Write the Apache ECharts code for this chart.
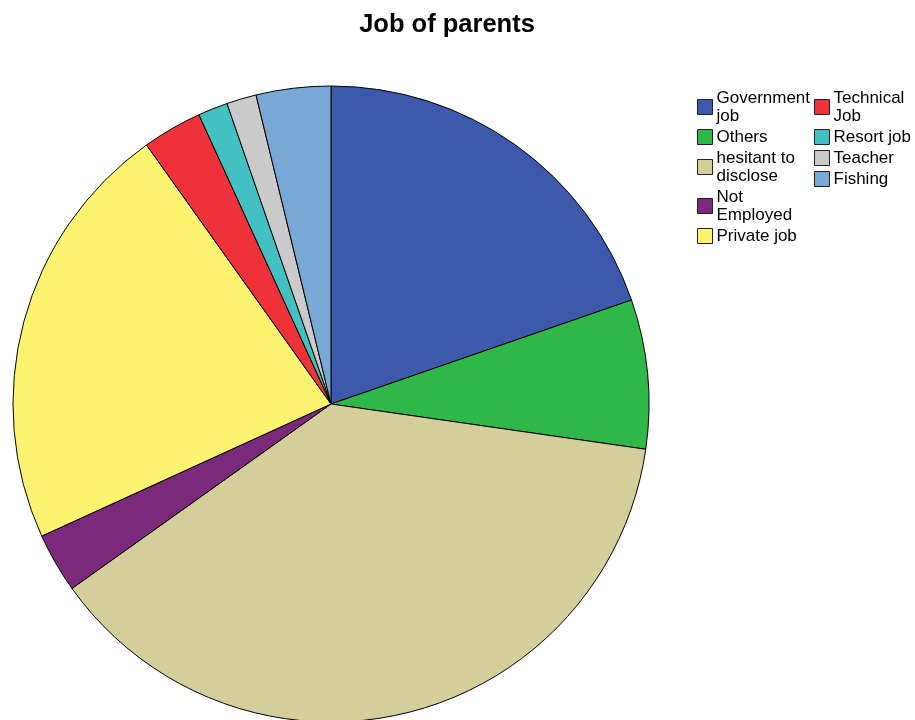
<!DOCTYPE html>
<html>
<head>
<meta charset="utf-8">
<script src="https://cdn.jsdelivr.net/npm/echarts@6/dist/echarts.min.js"></script>
<style>html,body{margin:0;padding:0;background:#fff;}#c{width:915px;height:720px;}</style>
</head>
<body>
<div id="c"></div>
<script>
const title = 'Job of parents';
const categories = ['Government job', 'Others', 'hesitant to disclose', 'Not Employed', 'Private job', 'Technical Job', 'Resort job', 'Teacher', 'Fishing'];
const legendLabels = ['Government\njob', 'Others', 'hesitant to\ndisclose', 'Not\nEmployed', 'Private job', 'Technical\nJob', 'Resort job', 'Teacher', 'Fishing'];
const counts = [26, 10, 50, 4, 29, 4, 2, 2, 5];
const colors = ['#3d59ab', '#2fb74a', '#d4cf9a', '#7b2a7b', '#fcf470', '#ef3139', '#43c0c1', '#cacaca', '#7aa8d6'];

const chart = echarts.init(document.getElementById('c'));
const labelOf = {};
categories.forEach((c, i) => { labelOf[c] = legendLabels[i]; });
const legendCommon = {
  orient: 'vertical', itemWidth: 15, itemHeight: 15, itemGap: 3, padding: 0, top: 89,
  icon: 'rect', itemStyle: { borderColor: '#222', borderWidth: 1 },
  textStyle: { fontFamily: 'Liberation Sans', fontSize: 17, lineHeight: 18, color: '#000', padding: [0, 0, 0, -1] },
  formatter: n => labelOf[n], selectedMode: false
};
chart.setOption({
  animation: false,
  color: colors,
  title: { text: title, left: 442, textAlign: 'center', top: 7,
    textStyle: { fontFamily: 'Liberation Sans', fontWeight: 'bold', fontSize: 25.5, color: '#000' } },
  legend: [
    Object.assign({}, legendCommon, { left: 697, data: categories.slice(0, 5) }),
    Object.assign({}, legendCommon, { left: 814, data: categories.slice(5) })
  ],
  series: [{
    type: 'pie', center: [331, 404], radius: 318, startAngle: 90, clockwise: true,
    label: { show: false }, labelLine: { show: false }, silent: true,
    itemStyle: { borderColor: '#000', borderWidth: 1 },
    data: categories.map((c, i) => ({ name: c, value: counts[i] }))
  }]
});
</script>
</body>
</html>
